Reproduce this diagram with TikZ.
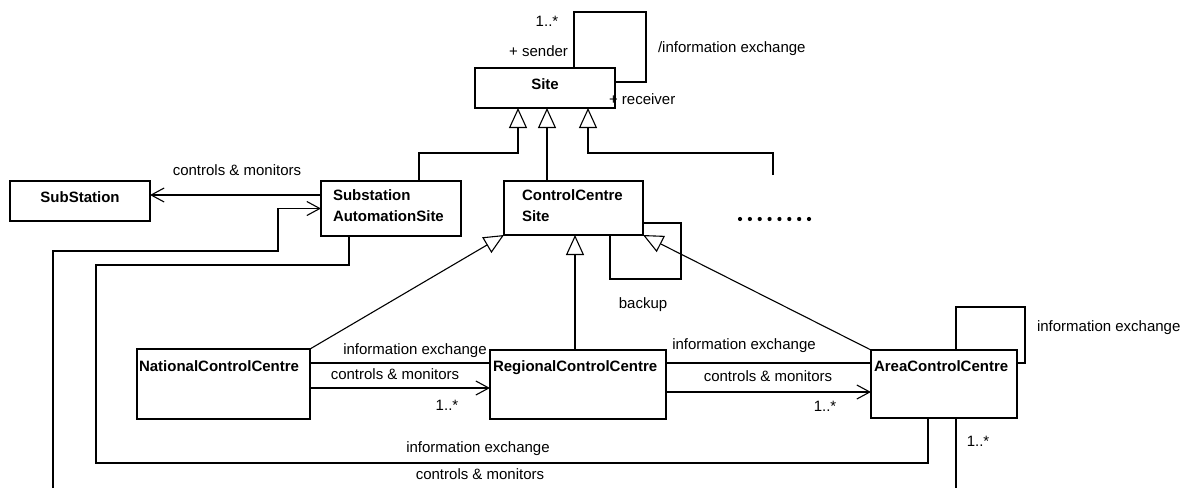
\documentclass[tikz,border=0pt]{standalone}
\usepackage{fontspec}
\setmainfont{Liberation Sans}
\usetikzlibrary{arrows.meta,calc}
\begin{document}
\begin{tikzpicture}[x=1pt,y=-1pt,
  every node/.style={inner sep=0pt, outer sep=0pt},
  wire/.style={line width=1.1pt, line join=miter},
  box/.style={draw, line width=1.1pt, anchor=north west},
  title/.style={font=\fontsize{15}{21}\selectfont\bfseries},
  lbl/.style={font=\fontsize{15}{18}\selectfont, text height=11pt, text depth=3pt},
  ctrl/.style={wire, -{Straight Barb[length=13pt,width=14pt]}},
  gen/.style={wire, -{Triangle[open,length=20pt,width=18pt]}}]

\fill[white] (0,0) rectangle (1186,488);
\useasboundingbox (0,0) rectangle (1186,488);

% classes
\node[box, minimum width=140, minimum height=40] (site) at (475,68) {};
\node[title] (sitet) at (545,84) {Site};

\node[box, minimum width=140, minimum height=40] (substation) at (10,181) {};
\node[title] (substationt) at (80,197) {SubStation};

\node[box, minimum width=140, minimum height=55] (sas) at (321,181) {};
\node[title, anchor=north west, align=left] (sast) at (333,190) {Substation\\AutomationSite};

\node[box, minimum width=139, minimum height=54] (ccs) at (504,181) {};
\node[title, anchor=north west, align=left] (ccst) at (522,190) {ControlCentre\\Site};

\node[box, minimum width=173, minimum height=70] (ncc) at (137,349) {};
\node[title, anchor=base west] (ncct) at (139,371) {NationalControlCentre};

\node[box, minimum width=176, minimum height=69] (rcc) at (490,350) {};
\node[title, anchor=base west] (rcct) at (493,371) {RegionalControlCentre};

\node[box, minimum width=146, minimum height=68] (acc) at (871,350) {};
\node[title, anchor=base west] (acct) at (874,371) {AreaControlCentre};

% further subclasses of Site, elided
\foreach \i in {0,...,7}
  \fill (740+9.86*\i,219) circle (2.1pt);
\coordinate (dotsend) at (773,175);

% loose ends leaving the lower edge
\coordinate (sasfoot) at (53,488);
\coordinate (accfoot) at (956,488);

% Site: reflexive information exchange
\draw[wire] ([xshift=29pt]site.north) -- ++(0,-56) -- ++(72,0) |- ([yshift=6pt]site.east);
\node[lbl] (sitemult) at (547,22) {1..*};
\node[lbl, anchor=east] (sender) at (568,52) {+ sender};
\node[lbl, anchor=west] (siteinfo) at (658,48) {/information exchange};
\node[lbl, anchor=west] (receiver) at (609,100) {+ receiver};

% generalisations to Site
\draw[gen] ([xshift=28pt]sas.north) -- ++(0,-28) -- ++(99,0) -- ([xshift=-27pt]site.south);
\draw[gen] ([xshift=2pt]site.south |- ccs.north) -- ([xshift=2pt]site.south);
\draw[gen] (dotsend) -- ++(0,-22) -- ++(-185,0) -- ([xshift=43pt]site.south);

% SubstationAutomationSite controls SubStation
\draw[ctrl] ([yshift=13.5pt]sas.west) -- ([yshift=6pt]substation.east);
\node[lbl] (sslbl) at (237,171) {controls \& monitors};

% controls & monitors into SubstationAutomationSite
\draw[ctrl] (sasfoot) -- ++(0,-237) -- ++(225,0) |- (sas.west);

% SubstationAutomationSite -- AreaControlCentre
\draw[wire] ([xshift=-42pt]sas.south) -- ++(0,29) -- ++(-253,0) -- ++(0,198) -| ([xshift=-16pt]acc.south);
\node[lbl] (botinfo) at (478,448) {information exchange};
\node[lbl] (botctrl) at (480,475) {controls \& monitors};
\draw[wire] ([xshift=12pt]acc.south) -- (accfoot);
\node[lbl] (accmult) at (978,442) {1..*};

% ControlCentreSite backup
\draw[wire] ([yshift=-15pt]ccs.east) -- ++(38,0) -- ++(0,56) -| ([xshift=36.5pt]ccs.south);
\node[lbl] (backup) at (643,304) {backup};

% generalisations to ControlCentreSite
\draw[gen] (ncc.north east) -- (ccs.south west);
\draw[gen] ([xshift=1.5pt]ccs.south |- rcc.north) -- ([xshift=1.5pt]ccs.south);
\draw[gen] (acc.north west) -- (ccs.south east);

% National -- Regional
\draw[wire] ([yshift=21pt]ncc.east) -- ([yshift=21pt]ncc.east -| rcc.west);
\node[lbl] (nrinfo) at (415,350) {information exchange};
\draw[ctrl] ([yshift=-4pt]ncc.east) -- ([yshift=-4pt]ncc.east -| rcc.west);
\node[lbl] (nrctrl) at (395,375) {controls \& monitors};
\node[lbl] (nrmult) at (447,406) {1..*};

% Regional -- Area
\draw[wire] ([yshift=21.5pt]rcc.east) -- ([yshift=21.5pt]rcc.east -| acc.west);
\node[lbl] (rainfo) at (744,345) {information exchange};
\draw[ctrl] ([yshift=-7.5pt]rcc.east) -- ([yshift=-7.5pt]rcc.east -| acc.west);
\node[lbl] (ractrl) at (768,377) {controls \& monitors};
\node[lbl] (ramult) at (825,407) {1..*};

% AreaControlCentre: reflexive information exchange
\draw[wire] ([xshift=12pt]acc.north) -- ++(0,-43) -- ++(69,0) |- ([yshift=21pt]acc.east);
\node[lbl, anchor=west] (accinfo) at (1037,327) {information exchange};

\end{tikzpicture}
\end{document}
